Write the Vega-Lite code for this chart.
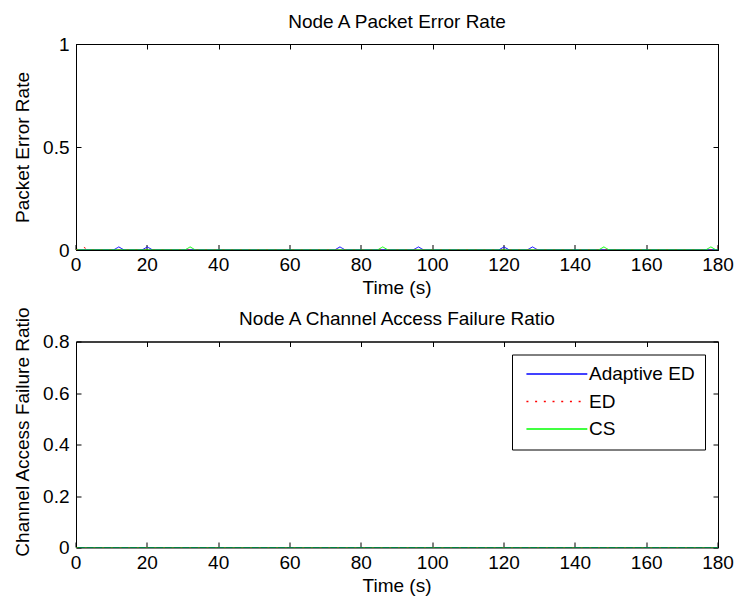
{
  "$schema": "https://vega.github.io/schema/vega-lite/v6.json",
  "background": "white",
  "padding": {"left": 13, "top": 12, "right": 5, "bottom": 0},
  "datasets": {
    "per": [
      {"t": 0, "rate": 0, "series": "Adaptive ED"},
      {"t": 10.5, "rate": 0, "series": "Adaptive ED"},
      {"t": 12, "rate": 0.015, "series": "Adaptive ED"},
      {"t": 13.5, "rate": 0, "series": "Adaptive ED"},
      {"t": 18.5, "rate": 0, "series": "Adaptive ED"},
      {"t": 20, "rate": 0.015, "series": "Adaptive ED"},
      {"t": 21.5, "rate": 0, "series": "Adaptive ED"},
      {"t": 72.5, "rate": 0, "series": "Adaptive ED"},
      {"t": 74, "rate": 0.015, "series": "Adaptive ED"},
      {"t": 75.5, "rate": 0, "series": "Adaptive ED"},
      {"t": 94.5, "rate": 0, "series": "Adaptive ED"},
      {"t": 96, "rate": 0.015, "series": "Adaptive ED"},
      {"t": 97.5, "rate": 0, "series": "Adaptive ED"},
      {"t": 118.5, "rate": 0, "series": "Adaptive ED"},
      {"t": 120, "rate": 0.015, "series": "Adaptive ED"},
      {"t": 121.5, "rate": 0, "series": "Adaptive ED"},
      {"t": 126.5, "rate": 0, "series": "Adaptive ED"},
      {"t": 128, "rate": 0.015, "series": "Adaptive ED"},
      {"t": 129.5, "rate": 0, "series": "Adaptive ED"},
      {"t": 180, "rate": 0, "series": "Adaptive ED"},
      {"t": 0, "rate": 0, "series": "ED"},
      {"t": 2, "rate": 0.015, "series": "ED"},
      {"t": 3.5, "rate": 0, "series": "ED"},
      {"t": 178.5, "rate": 0, "series": "ED"},
      {"t": 180, "rate": 0.015, "series": "ED"},
      {"t": 0, "rate": 0, "series": "CS"},
      {"t": 30.5, "rate": 0, "series": "CS"},
      {"t": 32, "rate": 0.015, "series": "CS"},
      {"t": 33.5, "rate": 0, "series": "CS"},
      {"t": 84.5, "rate": 0, "series": "CS"},
      {"t": 86, "rate": 0.015, "series": "CS"},
      {"t": 87.5, "rate": 0, "series": "CS"},
      {"t": 146.5, "rate": 0, "series": "CS"},
      {"t": 148, "rate": 0.015, "series": "CS"},
      {"t": 149.5, "rate": 0, "series": "CS"},
      {"t": 176.5, "rate": 0, "series": "CS"},
      {"t": 178, "rate": 0.015, "series": "CS"},
      {"t": 179.5, "rate": 0, "series": "CS"},
      {"t": 180, "rate": 0, "series": "CS"}
    ],
    "caf": [
      {"t": 0, "ratio": 0, "series": "Adaptive ED"},
      {"t": 180, "ratio": 0, "series": "Adaptive ED"},
      {"t": 0, "ratio": 0, "series": "ED"},
      {"t": 180, "ratio": 0, "series": "ED"},
      {"t": 0, "ratio": 0, "series": "CS"},
      {"t": 180, "ratio": 0, "series": "CS"}
    ]
  },
  "vconcat": [
    {
      "title": {"text": "Node A Packet Error Rate", "offset": 3},
      "width": 642,
      "height": 206,
      "data": {"name": "per"},
      "layer": [
        {
          "mark": {"type": "line", "strokeWidth": 1, "clip": true},
          "encoding": {
            "x": {"field": "t", "type": "quantitative", "scale": {"domain": [0, 180], "nice": false},
                  "axis": {"title": "Time (s)", "translate": 0, "values": [0, 20, 40, 60, 80, 100, 120, 140, 160, 180]}},
            "y": {"field": "rate", "type": "quantitative", "scale": {"domain": [0, 1], "nice": false},
                  "axis": {"title": "Packet Error Rate", "values": [0, 0.5, 1], "format": "~g"}},
            "color": {"field": "series", "type": "nominal",
                      "scale": {"domain": ["Adaptive ED", "ED", "CS"], "range": ["#0000ff", "#ff0000", "#00ff00"]},
                      "legend": null},
            "strokeDash": {"field": "series", "type": "nominal",
                           "scale": {"domain": ["Adaptive ED", "ED", "CS"], "range": [[1, 0], [2, 6.7], [1, 0]]},
                           "legend": null}
          }
        },
        {
          "mark": {"type": "line", "opacity": 0},
          "encoding": {
            "x": {"field": "t", "type": "quantitative",
                  "axis": {"orient": "top", "labels": false, "title": null, "values": [0, 20, 40, 60, 80, 100, 120, 140, 160, 180]}},
            "y": {"field": "rate", "type": "quantitative",
                  "axis": {"orient": "right", "labels": false, "title": null, "values": [0, 0.5, 1]}}
          }
        }
      ],
      "resolve": {"axis": {"x": "independent", "y": "independent"}}
    },
    {
      "title": {"text": "Node A Channel Access Failure Ratio", "offset": -22.5},
      "width": 642,
      "height": 206,
      "data": {"name": "caf"},
      "layer": [
        {
          "mark": {"type": "line", "strokeWidth": 1, "clip": true},
          "encoding": {
            "x": {"field": "t", "type": "quantitative", "scale": {"domain": [0, 180], "nice": false},
                  "axis": {"title": "Time (s)", "translate": 0, "values": [0, 20, 40, 60, 80, 100, 120, 140, 160, 180]}},
            "y": {"field": "ratio", "type": "quantitative", "scale": {"domain": [0, 0.8], "nice": false},
                  "axis": {"title": "Channel Access Failure Ratio", "titleY": 90, "values": [0, 0.2, 0.4, 0.6, 0.8], "format": "~g"}},
            "color": {"field": "series", "type": "nominal",
                      "scale": {"domain": ["Adaptive ED", "ED", "CS"], "range": ["#0000ff", "#ff0000", "#00ff00"]},
                      "legend": {"orient": "none", "legendX": 436, "legendY": 13, "title": null}},
            "strokeDash": {"field": "series", "type": "nominal",
                           "scale": {"domain": ["Adaptive ED", "ED", "CS"], "range": [[1, 0], [2, 6.7], [1, 0]]},
                           "legend": {"orient": "none", "legendX": 436, "legendY": 13, "title": null}}
          }
        },
        {
          "mark": {"type": "line", "opacity": 0},
          "encoding": {
            "x": {"field": "t", "type": "quantitative",
                  "axis": {"orient": "top", "labels": false, "title": null, "values": [0, 20, 40, 60, 80, 100, 120, 140, 160, 180]}},
            "y": {"field": "ratio", "type": "quantitative",
                  "axis": {"orient": "right", "labels": false, "title": null, "values": [0, 0.2, 0.4, 0.6, 0.8]}}
          }
        }
      ],
      "resolve": {"axis": {"x": "independent", "y": "independent"}}
    }
  ],
  "spacing": 6.5,
  "resolve": {"scale": {"color": "independent", "strokeDash": "independent"}},
  "config": {
    "font": "Liberation Sans",
    "view": {"stroke": "black", "strokeWidth": 1},
    "axis": {
      "grid": false,
      "domainColor": "black",
      "domainWidth": 1,
      "tickColor": "black",
      "tickWidth": 1,
      "tickSize": -5,
      "labelColor": "black",
      "labelFontSize": 19,
      "labelFlush": false,
      "labelOverlap": false,
      "labelPadding": 11,
      "titleColor": "black",
      "titleFontSize": 19,
      "titleFontWeight": "normal",
      "titlePadding": 4,
      "zindex": 1
    },
    "axisY": {"labelPadding": 12, "titlePadding": 10},
    "title": {"fontSize": 19, "fontWeight": "normal", "color": "black"},
    "legend": {
      "symbolType": "M-1,0H11",
      "symbolSize": 103,
      "symbolStrokeWidth": 1.5,
      "labelFontSize": 19,
      "labelColor": "black",
      "labelOffset": 48,
      "strokeColor": "black",
      "fillColor": "white",
      "padding": 10,
      "rowPadding": 7.5,
      "cornerRadius": 0
    }
  }
}
